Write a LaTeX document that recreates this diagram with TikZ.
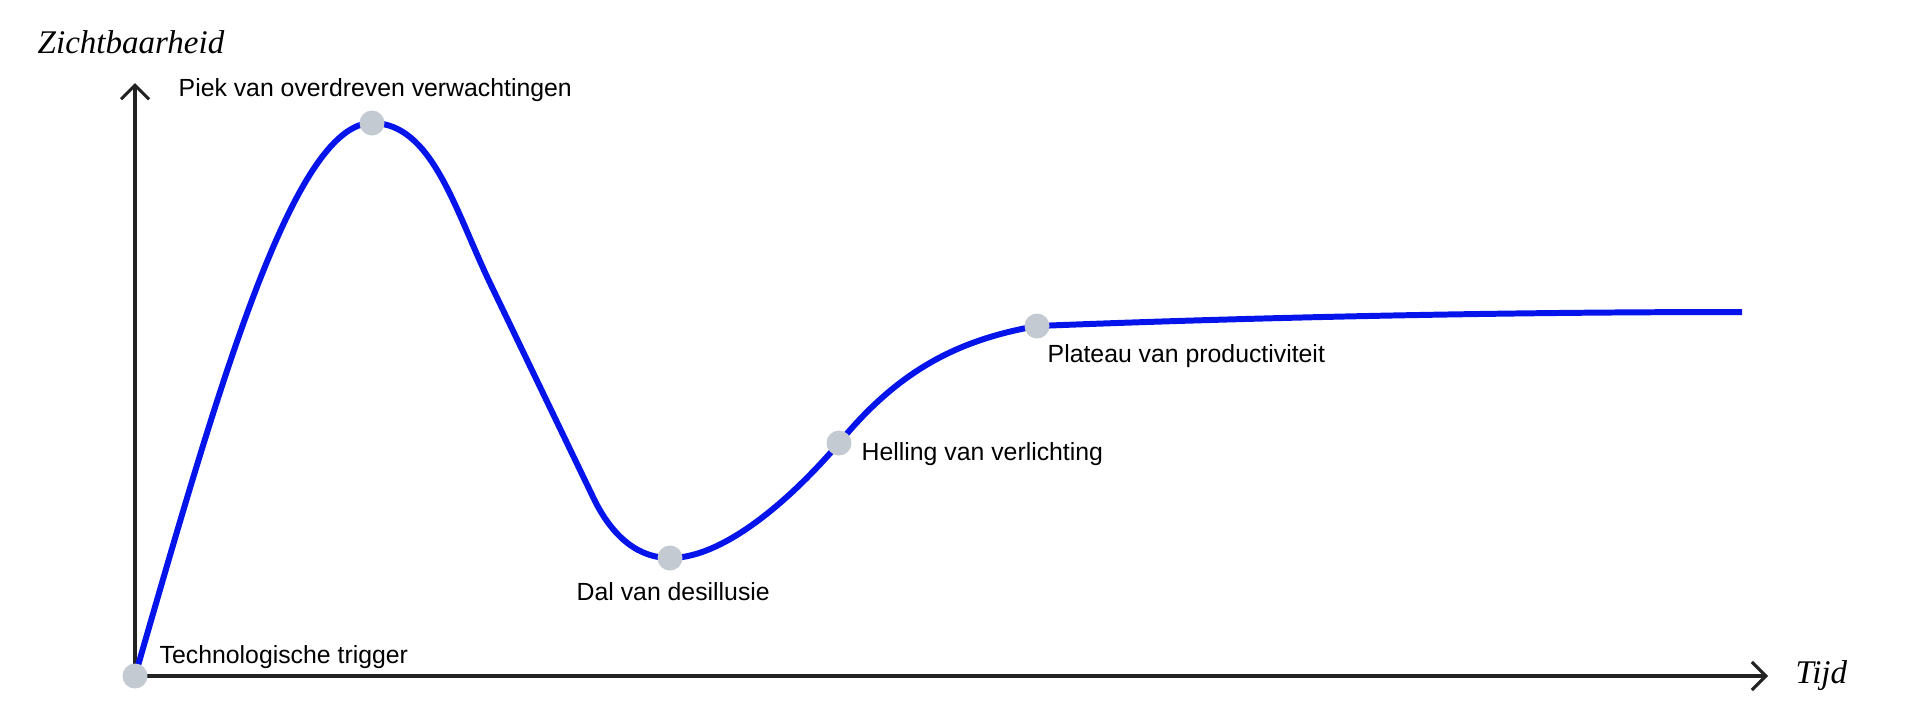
\documentclass[tikz,border=0pt]{standalone}
\usepackage{fontspec}
\setmainfont{Liberation Sans}
\newfontfamily\axisfont{Liberation Serif}
\usetikzlibrary{arrows.meta,backgrounds}

\definecolor{curveblue}{RGB}{5,20,235}
\definecolor{dotgray}{RGB}{195,202,209}
\definecolor{axisgray}{RGB}{34,34,34}

\begin{document}
\begin{tikzpicture}[
			font=\fontsize{7.06}{8.5}\selectfont,
			>={Straight Barb[length=1.4mm,width=2.8mm]},
			stage/.style={
				circle, fill=dotgray, draw=none,
				minimum size=0.25cm, inner sep=0pt
			},
			stagelbl/.style={anchor=base west, inner sep=0pt, text=black},
			axislbl/.style={
				anchor=base west, inner sep=0pt,
				font=\axisfont\itshape\fontsize{9.4}{11}\selectfont
			},
			axis/.style={->, line width=0.9pt, axisgray},
			hype/.style={line width=1.7pt, curveblue, line join=round}
			]
			\useasboundingbox (0,0) rectangle (19.2,-7.15);
			
			%% ── Stages on the curve ─────────────────────────────────────────
			\node[stage] (trig)     at (1.35,  -6.76) {};
			\node[stage] (peak)     at (3.72,  -1.23) {};
			\node[stage] (dal)      at (6.70,  -5.58) {};
			\node[stage] (helling)  at (8.39,  -4.43) {};
			\node[stage] (plateau)  at (10.37, -3.26) {};
			\coordinate (curveend)  at (17.42, -3.12);
			
			%% ── Axes ─────────────────────────────────────────────────────────
			\coordinate (ytop) at (1.35, -0.83);
			\coordinate (xend) at (17.68, -6.76);
			
			\begin{scope}[on background layer]
				\draw[axis] (trig.center) -- (ytop);
				\draw[axis] (trig.center) -- (xend);
				
				%% hype curve through the stages
				\draw[hype] (trig.center)
					.. controls (2.15,-4.00) and (2.92,-1.23) .. (peak.center)
					.. controls (4.32,-1.23) and (4.55,-2.10) .. (4.90,-2.83)
					-- (5.93,-4.97)
					.. controls (6.13,-5.39) and (6.40,-5.58) .. (dal.center)
					.. controls (7.25,-5.58) and (7.93,-4.97) .. (helling.center)
					.. controls (8.98,-3.71) and (9.57,-3.40) .. (plateau.center)
					.. controls (11.87,-3.20) and (14.42,-3.12) .. (curveend);
			\end{scope}
			
			%% ── Labels ───────────────────────────────────────────────────────
			\node[axislbl] (ylbl) at (0.37, -0.53) {Zichtbaarheid};
			\node[axislbl] (xlbl) at (17.95, -6.83) {Tijd};
			
			\node[stagelbl] (trigtxt)    at (1.59, -6.63) {Technologische trigger};
			\node[stagelbl] (peaktxt)    at (1.78, -0.96) {Piek van overdreven verwachtingen};
			\node[stagelbl] (daltxt)     at (5.76, -6.00) {Dal van desillusie};
			\node[stagelbl] (hellingtxt) at (8.61, -4.60) {Helling van verlichting};
			\node[stagelbl] (plateautxt) at (10.47,-3.62) {Plateau van productiviteit};
			
		\end{tikzpicture}
\end{document}
